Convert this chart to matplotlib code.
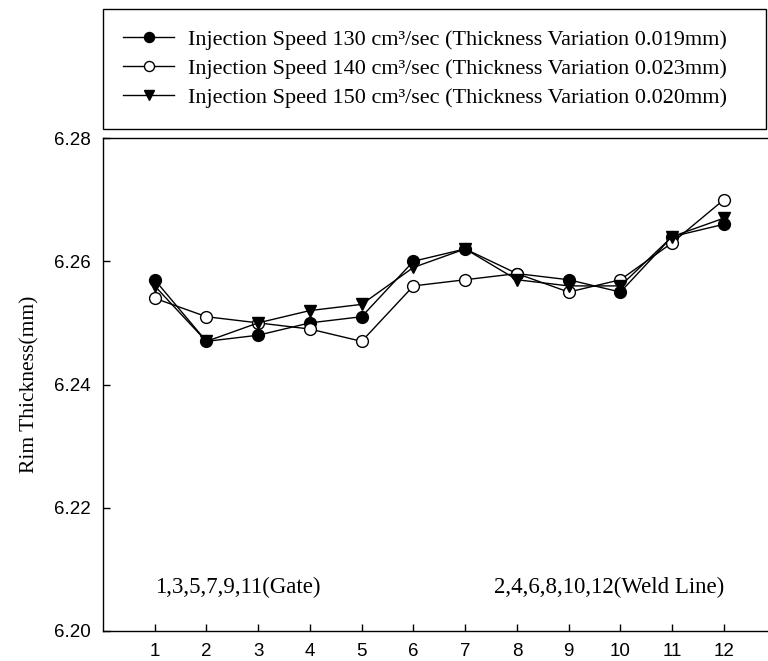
import numpy as np
import matplotlib
matplotlib.use('Agg')
import matplotlib.pyplot as plt

# Rim thickness at each measuring point
points = np.arange(1, 13)
speed_130 = [6.257, 6.247, 6.248, 6.250, 6.251, 6.260, 6.262, 6.258, 6.257, 6.255, 6.264, 6.266]
speed_140 = [6.254, 6.251, 6.250, 6.249, 6.247, 6.256, 6.257, 6.258, 6.255, 6.257, 6.263, 6.270]
speed_150 = [6.256, 6.247, 6.250, 6.252, 6.253, 6.259, 6.262, 6.257, 6.256, 6.256, 6.264, 6.267]
labels = ['Injection Speed 130 cm\u00b3/sec (Thickness Variation 0.019mm)',
          'Injection Speed 140 cm\u00b3/sec (Thickness Variation 0.023mm)',
          'Injection Speed 150 cm\u00b3/sec (Thickness Variation 0.020mm)']
y_ticks = [6.20, 6.22, 6.24, 6.26, 6.28]

serif = 'Liberation Serif'
sans = 'Liberation Sans'

fig = plt.figure(figsize=(7.68, 6.61), dpi=100)
ax = fig.add_axes([0.134, 0.0454, 0.876, 0.7458])

style = dict(color='black', lw=1.0, markersize=8.5, markeredgewidth=1.0, markeredgecolor='black')
l1, = ax.plot(points, speed_130, marker='o', markerfacecolor='black', label=labels[0], **style)
l2, = ax.plot(points, speed_140, marker='o', markerfacecolor='white', label=labels[1], **style)
l3, = ax.plot(points, speed_150, marker='v', markerfacecolor='black', label=labels[2], **style)

ax.set_xlim(0, 13)
ax.set_ylim(6.20, 6.28)
ax.set_xticks(points)
ax.set_yticks(y_ticks)
ax.set_yticklabels([f'{v:.2f}' for v in y_ticks])
ax.tick_params(direction='in', length=5, width=1.0, labelsize=13.5, colors='black')
ax.tick_params(axis='x', pad=9)
ax.tick_params(axis='y', pad=9)
for lab in ax.get_xticklabels() + ax.get_yticklabels():
    lab.set_fontfamily(sans)
for s in ax.spines.values():
    s.set_linewidth(1.0)
ax.spines['right'].set_visible(False)

ax.set_ylabel('Rim Thickness(mm)', fontfamily=serif, fontsize=15.5, labelpad=10)

ax.text(1, 6.2070, '1,3,5,7,9,11(Gate)', fontfamily=serif, fontsize=16.5, ha='left', va='center')
ax.text(12, 6.2070, '2,4,6,8,10,12(Weld Line)', fontfamily=serif, fontsize=16.5, ha='right', va='center')

leg = fig.legend(handles=[l1, l2, l3], loc='upper left', bbox_to_anchor=(0.134, 0.986, 0.864, 0.0),
                 mode='expand', prop={'family': serif, 'size': 16.0}, frameon=True, fancybox=False,
                 edgecolor='black', framealpha=1, handlelength=2.3, markerscale=0.85,
                 labelspacing=0.38, borderpad=0.92, handletextpad=0.6, borderaxespad=0)
leg.get_frame().set_linewidth(1.0)

fig.savefig('out.png', dpi=100)
